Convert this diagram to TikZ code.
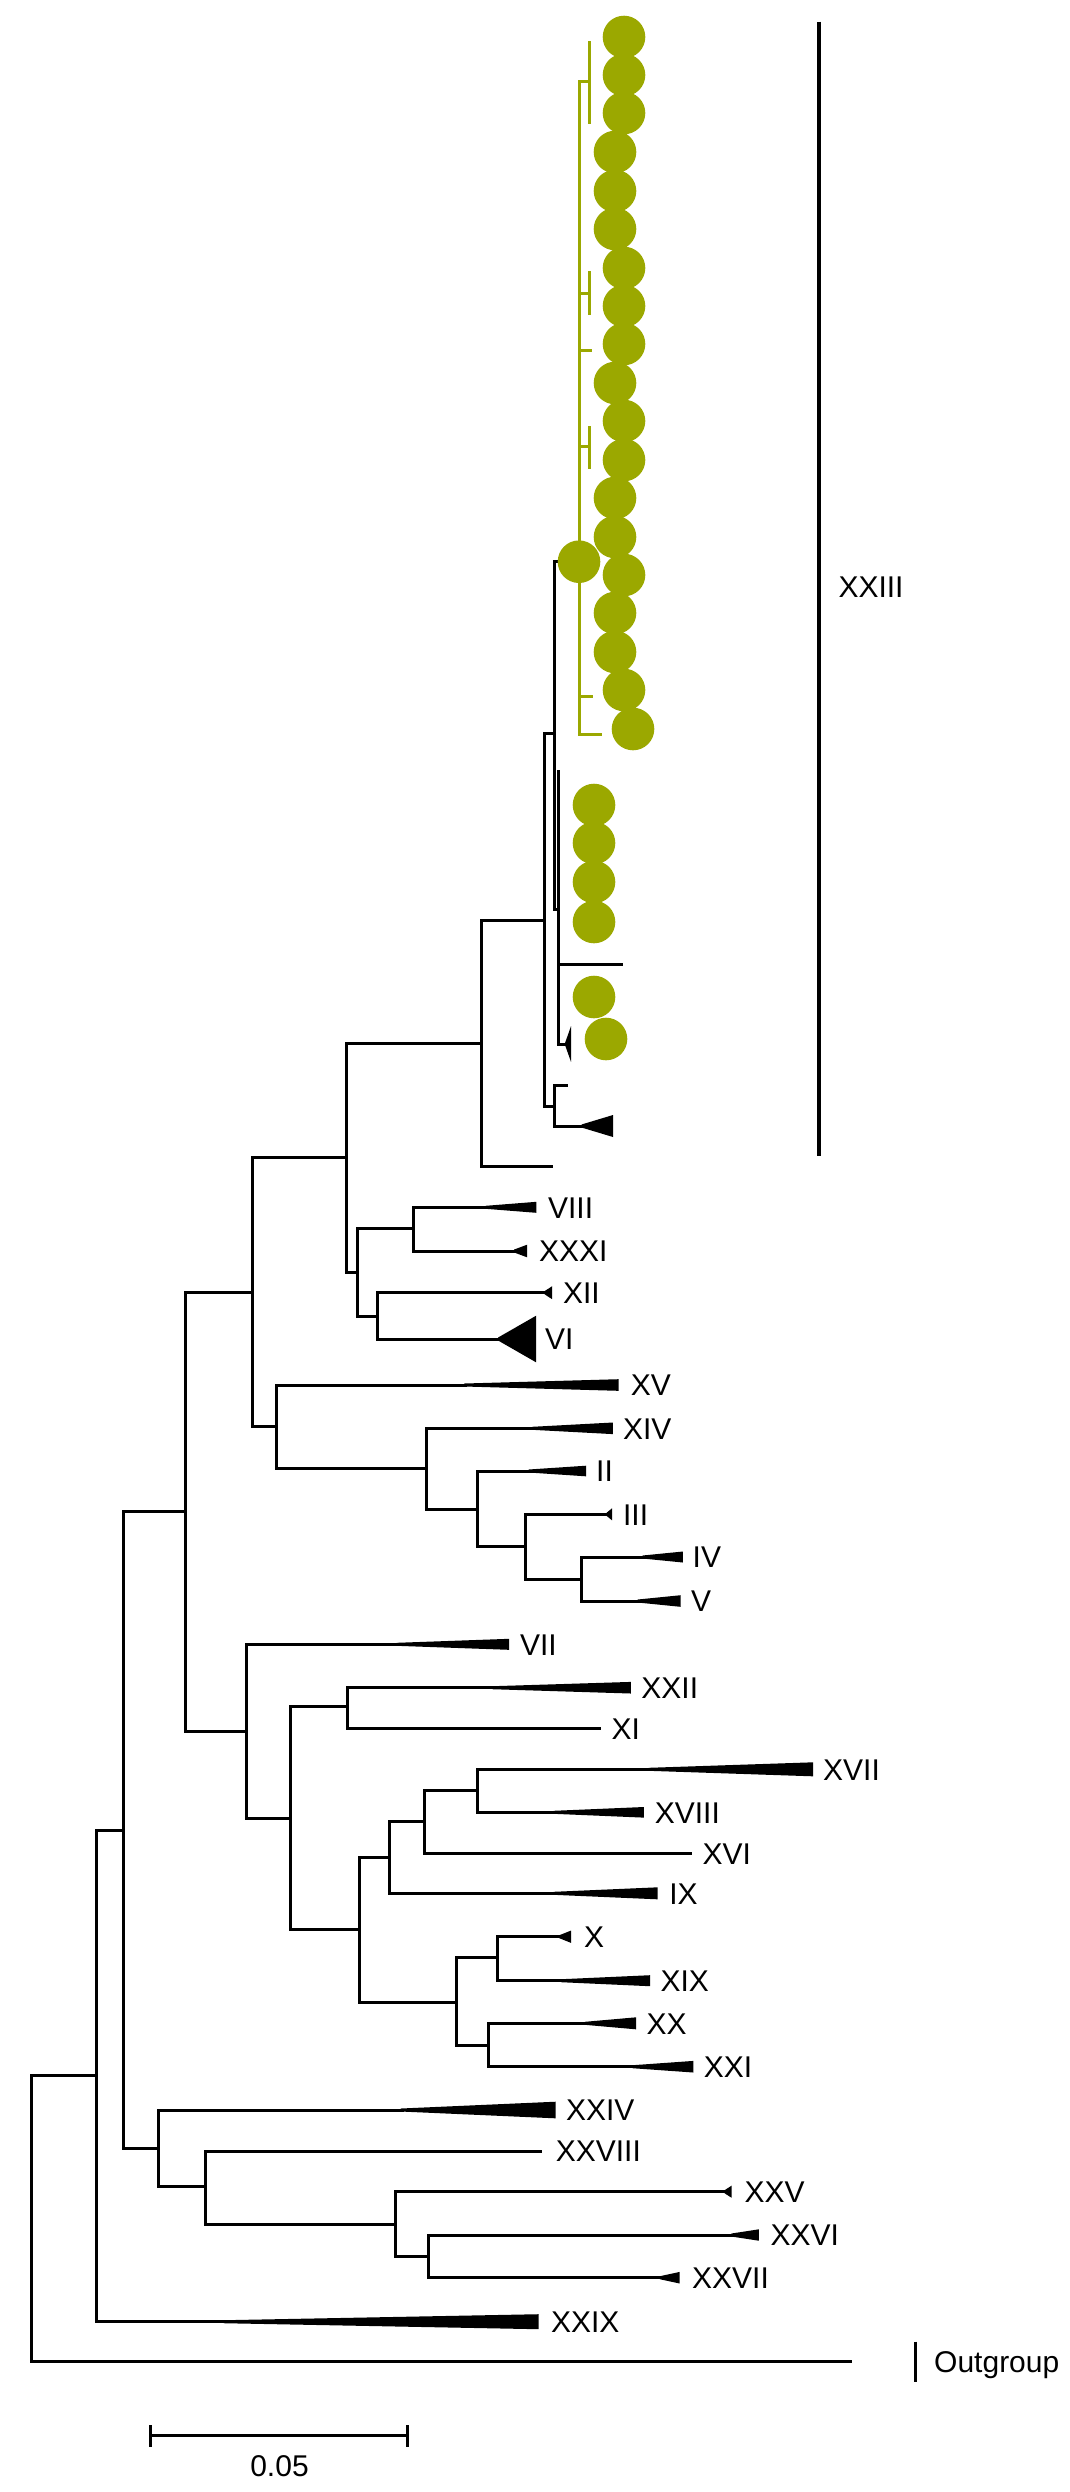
\documentclass[tikz,border=0pt]{standalone}
\usepackage{fontspec}
\setmainfont{Liberation Sans}
\definecolor{cladegreen}{RGB}{155,168,0}
\newcommand\cladewedge[4]{\fill (#1-1.5,#2-1.5) -- (#3,#2-#4) -- (#3,#2+#4) -- (#1-1.5,#2+1.5) -- cycle;}
\tikzset{
  br/.style={draw=black, line width=3pt, line cap=rect},
  gbr/.style={draw=cladegreen, line width=3pt, line cap=rect},
  lab/.style={anchor=base west, inner sep=0pt, yshift=-10.7pt, font=\fontsize{30}{36}\selectfont},
  dot/.style={fill=cladegreen}
}
\begin{document}
\begin{tikzpicture}[x=1pt,y=-1pt]
\useasboundingbox (0,0) rectangle (1069,2492);

% ---------- internal nodes (x of vertical line, y where parent attaches)
\coordinate (root) at (31,2075);
\coordinate (W) at (96,2075);
\coordinate (M) at (123.7,1830);
\coordinate (F) at (185.3,1511.7);
\coordinate (B) at (252,1292.3);
\coordinate (A) at (346,1157.3);
\coordinate (P) at (481,1043);
\coordinate (Q) at (544,920);
\coordinate (R) at (554,733);
\coordinate (T) at (558.3,909);
\coordinate (S) at (554.7,1106);
\coordinate (C) at (357.5,1272.7);
\coordinate (D) at (413.9,1228.3);
\coordinate (E) at (377.1,1316.7);
\coordinate (G) at (276.7,1426);
\coordinate (H) at (426.4,1468.3);
\coordinate (I) at (477.1,1509);
\coordinate (J) at (525.4,1546.7);
\coordinate (K) at (581.8,1579);
\coordinate (L) at (246.7,1731.7);
\coordinate (N) at (290.2,1818.3);
\coordinate (O1) at (347.2,1706.7);
\coordinate (O2) at (359.9,1929.3);
\coordinate (O3) at (389.7,1857.7);
\coordinate (O4) at (424.2,1821.7);
\coordinate (O5) at (477.7,1790);
\coordinate (O6) at (456.7,2002.3);
\coordinate (O7) at (497.6,1957.7);
\coordinate (O8) at (488.1,2045);
\coordinate (Y) at (158.3,2148.3);
\coordinate (Z) at (205,2186.7);
\coordinate (Z2) at (395.4,2224);
\coordinate (Z3) at (428.1,2256.7);

% ---------- leaf tips
\coordinate (outg) at (850.8,2361.7);
\coordinate (xxix) at (225,2321.7);
\coordinate (p1) at (551.7,1166);
\coordinate (gn) at (579,561.7);
\coordinate (t0) at (558.3,771.7);
\coordinate (t1) at (621.7,964);
\coordinate (t2) at (566.7,1044);
\coordinate (s1) at (566.7,1085);
\coordinate (s2) at (583,1126);
\coordinate (viii) at (487.1,1207.3);
\coordinate (xxxi) at (515.7,1251);
\coordinate (xii) at (546,1292.7);
\coordinate (vi) at (499.6,1339);
\coordinate (xv) at (465.7,1385);
\coordinate (xiv) at (533.6,1428.3);
\coordinate (ii) at (530,1471);
\coordinate (iii) at (608,1514.3);
\coordinate (iv) at (644,1557);
\coordinate (v) at (639.2,1601);
\coordinate (vii) at (398.1,1644.3);
\coordinate (xxii) at (493.8,1687.7);
\coordinate (xi) at (599.8,1728.3);
\coordinate (xvii) at (650,1769.3);
\coordinate (xviii) at (555,1812.3);
\coordinate (xvi) at (690.9,1853.3);
\coordinate (ix) at (555,1893.3);
\coordinate (x) at (560.8,1936.7);
\coordinate (xix) at (562.7,1980.7);
\coordinate (xx) at (586.3,2023.3);
\coordinate (xxi) at (634,2066.7);
\coordinate (xxiv) at (402.2,2110);
\coordinate (xxviii) at (540.6,2151);
\coordinate (xxv) at (726,2191.7);
\coordinate (xxvi) at (732.9,2235);
\coordinate (xxvii) at (661.3,2277.7);

% ---------- black branches
\draw[br] (root) |- (W);
\draw[br] (root) |- (outg);
\draw[br] (W) |- (M);
\draw[br] (W) |- (xxix);
\draw[br] (M) |- (F);
\draw[br] (M) |- (Y);
\draw[br] (F) |- (B);
\draw[br] (F) |- (L);
\draw[br] (B) |- (A);
\draw[br] (B) |- (G);
\draw[br] (A) |- (P);
\draw[br] (A) |- (C);
\draw[br] (P) |- (Q);
\draw[br] (P) |- (p1);
\draw[br] (Q) |- (R);
\draw[br] (Q) |- (S);
\draw[br] (R) |- (gn);
\draw[br] (R) |- (T);
\draw[br] (T) |- (t0);
\draw[br] (T) |- (t1);
\draw[br] (T) |- (t2);
\draw[br] (S) |- (s1);
\draw[br] (S) |- (s2);
\draw[br] (C) |- (D);
\draw[br] (C) |- (E);
\draw[br] (D) |- (viii);
\draw[br] (D) |- (xxxi);
\draw[br] (E) |- (xii);
\draw[br] (E) |- (vi);
\draw[br] (G) |- (xv);
\draw[br] (G) |- (H);
\draw[br] (H) |- (xiv);
\draw[br] (H) |- (I);
\draw[br] (I) |- (ii);
\draw[br] (I) |- (J);
\draw[br] (J) |- (iii);
\draw[br] (J) |- (K);
\draw[br] (K) |- (iv);
\draw[br] (K) |- (v);
\draw[br] (L) |- (vii);
\draw[br] (L) |- (N);
\draw[br] (N) |- (O1);
\draw[br] (N) |- (O2);
\draw[br] (O1) |- (xxii);
\draw[br] (O1) |- (xi);
\draw[br] (O2) |- (O3);
\draw[br] (O2) |- (O6);
\draw[br] (O3) |- (O4);
\draw[br] (O3) |- (ix);
\draw[br] (O4) |- (O5);
\draw[br] (O4) |- (xvi);
\draw[br] (O5) |- (xvii);
\draw[br] (O5) |- (xviii);
\draw[br] (O6) |- (O7);
\draw[br] (O6) |- (O8);
\draw[br] (O7) |- (x);
\draw[br] (O7) |- (xix);
\draw[br] (O8) |- (xx);
\draw[br] (O8) |- (xxi);
\draw[br] (Y) |- (xxiv);
\draw[br] (Y) |- (Z);
\draw[br] (Z) |- (xxviii);
\draw[br] (Z) |- (Z2);
\draw[br] (Z2) |- (xxv);
\draw[br] (Z2) |- (Z3);
\draw[br] (Z3) |- (xxvi);
\draw[br] (Z3) |- (xxvii);

% ---------- collapsed clades (wedges)
\cladewedge{487.1}{1207.3}{536.4}{5.5}
\cladewedge{515.7}{1251}{527.1}{6.3}
\cladewedge{546}{1292.7}{552.1}{6.5}
\cladewedge{499.6}{1339}{536.1}{23.3}
\cladewedge{465.7}{1385}{618.6}{5.8}
\cladewedge{533.6}{1428.3}{612.9}{5.8}
\cladewedge{530}{1471}{586}{5.3}
\cladewedge{608}{1514.3}{612}{6}
\cladewedge{644}{1557}{682.9}{5.5}
\cladewedge{639.2}{1601}{680.6}{5.8}
\cladewedge{398.1}{1644.3}{509.1}{5.5}
\cladewedge{493.8}{1687.7}{630.8}{5.8}
\cladewedge{650}{1769.3}{813}{7}
\cladewedge{555}{1812.3}{643.8}{5.3}
\cladewedge{555}{1893.3}{657.6}{6}
\cladewedge{560.8}{1936.7}{571.1}{6.2}
\cladewedge{562.7}{1980.7}{650}{5.5}
\cladewedge{586.3}{2023.3}{636}{6}
\cladewedge{634}{2066.7}{693.3}{5.8}
\cladewedge{402.2}{2110}{555.6}{8.3}
\cladewedge{726}{2191.7}{731.5}{6}
\cladewedge{732.9}{2235}{758.8}{5.7}
\cladewedge{661.3}{2277.7}{679.7}{5.8}
\cladewedge{225}{2321.7}{538.6}{7.5}
\cladewedge{566.7}{1044}{571}{17.8}
\cladewedge{583}{1126}{613}{11}

% ---------- green clade
\coordinate (gb1) at (589,81.7);
\coordinate (gb1a) at (589,42);
\coordinate (gb1b) at (589,122);
\coordinate (gb2) at (589,293);
\coordinate (gb2a) at (589,272);
\coordinate (gb2b) at (589,313);
\coordinate (gs1) at (590,350);
\coordinate (gb3) at (589,446);
\coordinate (gb3a) at (589,427);
\coordinate (gb3b) at (589,467);
\coordinate (gs2) at (591,696);
\coordinate (gs3) at (600,734);
\draw[gbr] (gn) |- (gb1);
\draw[gbr] (gb1a) -- (gb1b);
\draw[gbr] (gn) |- (gb2);
\draw[gbr] (gb2a) -- (gb2b);
\draw[gbr] (gn) |- (gs1);
\draw[gbr] (gn) |- (gb3);
\draw[gbr] (gb3a) -- (gb3b);
\draw[gbr] (gn) |- (gs2);
\draw[gbr] (gn) |- (gs3);

% green circles
\foreach \cx/\cy in {624/37,624/75,624/113,615/152,615/191,615/229,624/268,624/306,624/344,615/383,624/421,624/460,615/498,615/537,624/575,615/613,615/652,624/690,633/729,594/805,594/843,594/882,594/922,594/997,606/1039}
  \fill[dot] (\cx,\cy) circle (21.3);
\fill[dot] (gn) circle (21.3);

% ---------- XXIII bar and label
\coordinate (bartop) at (818.7,21.7);
\coordinate (barbot) at (818.7,1155.7);
\draw[line width=4pt] (bartop) -- (barbot);
\node[lab] (lXXIII) at (838.3,586.7) {XXIII};

% ---------- outgroup bar
\coordinate (ogtop) at (915.6,2341.7);
\coordinate (ogbot) at (915.6,2381.7);
\draw[line width=3pt] (ogtop) -- (ogbot);
\node[lab] (lOut) at (934,2361.7) {Outgroup};

% ---------- labels
\node[lab] at (547.9,1207.3) {VIII};
\node[lab] at (538.9,1251) {XXXI};
\node[lab] at (562.9,1292.7) {XII};
\node[lab] at (545,1339) {VI};
\node[lab] at (630.7,1385) {XV};
\node[lab] at (622.9,1428.3) {XIV};
\node[lab] at (596,1471) {II};
\node[lab] at (622.9,1514.3) {III};
\node[lab] at (692.5,1557) {IV};
\node[lab] at (690.9,1601) {V};
\node[lab] at (519.8,1644.3) {VII};
\node[lab] at (641.2,1687.7) {XXII};
\node[lab] at (611.3,1728.3) {XI};
\node[lab] at (823,1769.3) {XVII};
\node[lab] at (654.6,1812.3) {XVIII};
\node[lab] at (702.4,1853.3) {XVI};
\node[lab] at (669.1,1893.3) {IX};
\node[lab] at (583.8,1936.7) {X};
\node[lab] at (660.3,1980.7) {XIX};
\node[lab] at (646.3,2023.3) {XX};
\node[lab] at (703.6,2066.7) {XXI};
\node[lab] at (565.9,2110) {XXIV};
\node[lab] at (555.6,2151) {XXVIII};
\node[lab] at (744.5,2191.7) {XXV};
\node[lab] at (770.4,2235) {XXVI};
\node[lab] at (692,2277.7) {XXVII};
\node[lab] at (550.9,2321.7) {XXIX};

% ---------- scale bar
\coordinate (sb1) at (150,2435.7);
\coordinate (sb2) at (407.7,2435.7);
\draw[line width=3pt] (sb1) -- (sb2);
\draw[line width=3pt] ([yshift=10.7pt]sb1) -- ([yshift=-11pt]sb1);
\draw[line width=3pt] ([yshift=10.7pt]sb2) -- ([yshift=-11pt]sb2);
\node[anchor=center, inner sep=0pt, font=\fontsize{30}{36}\selectfont] (lscale) at (279.5,2466) {0.05};
\end{tikzpicture}
\end{document}
